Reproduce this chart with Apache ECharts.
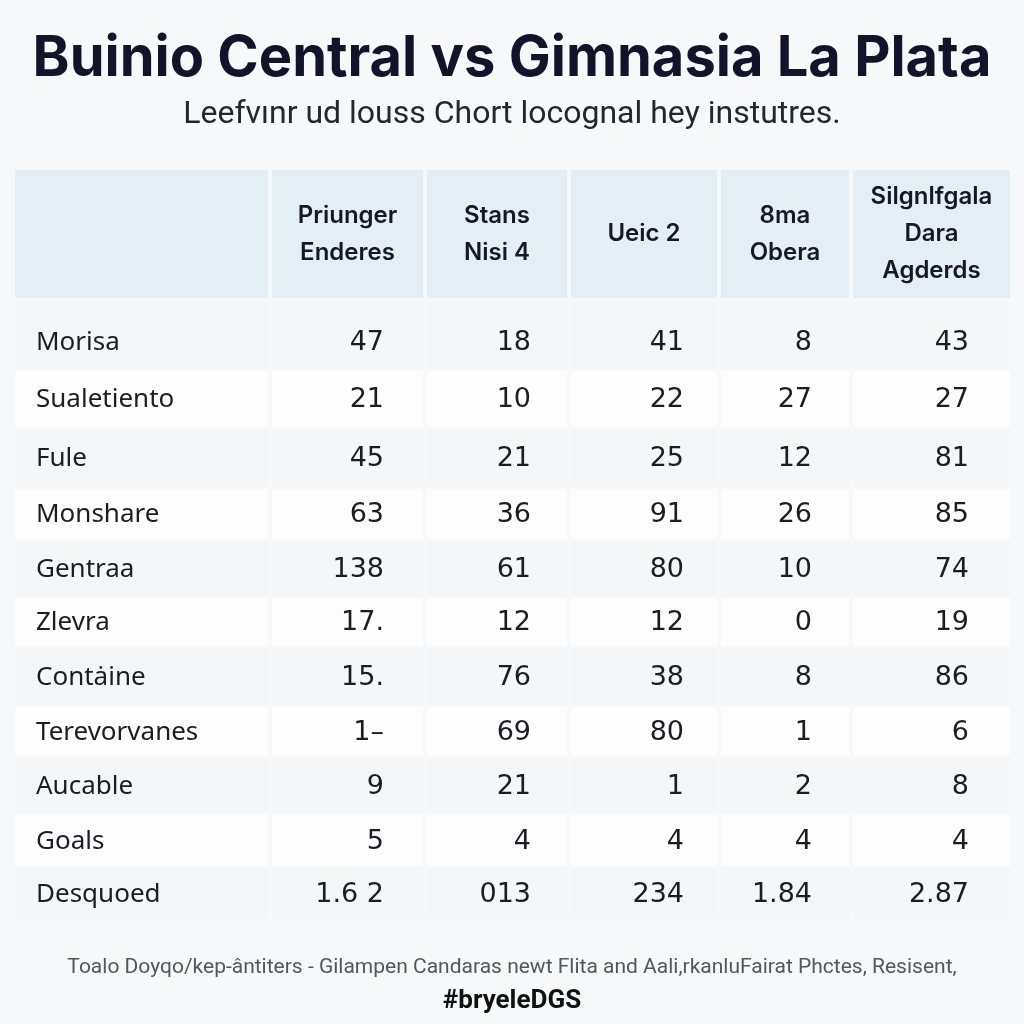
<!DOCTYPE html>
<html>
<head>
<meta charset="utf-8">
<script src="https://cdn.jsdelivr.net/npm/echarts@6/dist/echarts.min.js"></script>
<style>
html,body{margin:0;padding:0;background:#f7f8fa;}
#chart{width:1024px;height:1024px;}
</style>
</head>
<body>
<div id="chart"></div>
<script>
// ---- data ----
var titleText = 'Buinio Central vs Gimnasia La Plata';
var subtitleText = 'Leefvınr ud louss Chort locognal hey instutres.';
var footerText = 'Toalo Doyqo/kep-ântiters - Gilampen Candaras newt Flita and Aali,rkanluFairat Phctes, Resisent,';
var footerTag = '#bryeleDGS';

var columns = ['Priunger\nEnderes', 'Stans\nNisi 4', 'Ueic 2', '8ma\nObera', 'Silgnlfgala\nDara\nAgderds'];
var rowLabels = ['Morisa', 'Sualetiento', 'Fule', 'Monshare', 'Gentraa', 'Zlevra', 'Contȧine', 'Terevorvanes', 'Aucable', 'Goals', 'Desquoed'];
var priungerEnderes = ['47', '21', '45', '63', '138', '17.', '15.', '1–', '9', '5', '1.6 2'];
var stansNisi4      = ['18', '10', '21', '36', '61', '12', '76', '69', '21', '4', '013'];
var ueic2           = ['41', '22', '25', '91', '80', '12', '38', '80', '1', '4', '234'];
var obera8ma        = ['8', '27', '12', '26', '10', '0', '8', '1', '2', '4', '1.84'];
var silgnlfgala     = ['43', '27', '81', '85', '74', '19', '86', '6', '8', '4', '2.87'];
var columnValues = [priungerEnderes, stansNisi4, ueic2, obera8ma, silgnlfgala];

// ---- layout (not data) ----
var colEdges = [15, 270, 425, 569, 719, 851, 1010];
var headerTop = 170, headerBottom = 298;
var rowEdges = [314, 370, 428, 488, 540, 597, 647, 706, 757, 814, 867, 920];
var numRight = [384, 531, 684, 812, 969];

// build cell list
var headerCells = [[0, -1, '']];
columns.forEach(function (c, i) { headerCells.push([i + 1, -1, c]); });
var bodyCells = [];
rowLabels.forEach(function (lab, r) {
  bodyCells.push([0, r, lab]);
  columnValues.forEach(function (vals, c) { bodyCells.push([c + 1, r, vals[r]]); });
});

function cellText(i, s) { return s === 0 ? headerCells[i][2] : bodyCells[i][2]; }

function renderCell(params, api) {
  var c = api.value(0), r = api.value(1);
  var txt = cellText(params.dataIndex, params.seriesIndex);
  var gap = 2;
  var y0, y1;
  if (r < 0) { y0 = headerTop; y1 = headerBottom; }
  else { y0 = rowEdges[r] + 1; y1 = rowEdges[r + 1] - 1; }
  if (r === 0) y0 = 303;
  var p0 = api.coord([colEdges[c] + (c === 0 ? 0 : gap), y0]);
  var p1 = api.coord([colEdges[c + 1] - (c === 5 ? 0 : gap), y1]);
  var fill;
  if (r < 0) fill = '#e3eff5';
  else fill = (r % 2 === 0) ? '#f4f6f8' : '#fdfdfe';
  var children = [{
    type: 'rect',
    shape: { x: p0[0], y: p0[1], width: p1[0] - p0[0], height: p1[1] - p0[1] },
    style: { fill: fill }
  }];
  var ty0 = api.coord([0, r < 0 ? headerTop : rowEdges[r]])[1];
  var ty1 = api.coord([0, r < 0 ? headerBottom : rowEdges[r + 1]])[1];
  var cy = (ty0 + ty1) / 2;
  if (r < 0) {
    children.push({
      type: 'text',
      style: {
        x: (p0[0] + p1[0]) / 2, y: cy, text: txt, align: 'center', verticalAlign: 'middle',
        fontFamily: 'Inter, "Noto Sans", sans-serif', fontWeight: 600, fontSize: 24, lineHeight: 37,
        fill: '#161727'
      }
    });
  } else if (c === 0) {
    children.push({
      type: 'text',
      style: {
        x: api.coord([36, 0])[0], y: cy + 1, text: txt, align: 'left', verticalAlign: 'middle',
        fontFamily: '"Noto Sans", Inter, sans-serif', fontSize: 26, fill: '#1c1c24'
      }
    });
  } else {
    children.push({
      type: 'text',
      style: {
        x: api.coord([numRight[c - 1], 0])[0], y: cy + 1, text: txt, align: 'right', verticalAlign: 'middle',
        fontFamily: '"DejaVu Sans", sans-serif', fontSize: 27, fill: '#1c1c24'
      }
    });
  }
  return { type: 'group', children: children };
}

var chart = echarts.init(document.getElementById('chart'));
chart.setOption({
  backgroundColor: '#f7f8fa',
  animation: false,
  title: [
    { text: titleText, left: 'center', top: 26,
      textStyle: { fontFamily: 'Inter, "Noto Sans", sans-serif', fontWeight: 'bold', fontSize: 56, color: '#13132a' } },
    { text: subtitleText, left: 'center', top: 94,
      textStyle: { fontFamily: 'Roboto, "Noto Sans", sans-serif', fontWeight: 'normal', fontSize: 32, color: '#26262e' } },
    { text: footerText, left: 'center', top: 952,
      textStyle: { fontFamily: 'Roboto, "Noto Sans", sans-serif', fontWeight: 'normal', fontSize: 21, color: '#55565c' } },
    { text: footerTag, left: 'center', top: 983,
      textStyle: { fontFamily: 'Roboto, "Noto Sans", sans-serif', fontWeight: 'bold', fontSize: 26, color: '#111' } }
  ],
  grid: { left: 0, right: 0, top: 0, bottom: 0 },
  xAxis: { type: 'value', min: 0, max: 1024, show: false },
  yAxis: { type: 'value', min: 0, max: 1024, inverse: true, show: false },
  series: [
    { type: 'custom', renderItem: renderCell, data: headerCells.map(function (d) { return [d[0], d[1]]; }), silent: true },
    { type: 'custom', renderItem: renderCell, data: bodyCells.map(function (d) { return [d[0], d[1]]; }), silent: true }
  ]
});
</script>
</body>
</html>
